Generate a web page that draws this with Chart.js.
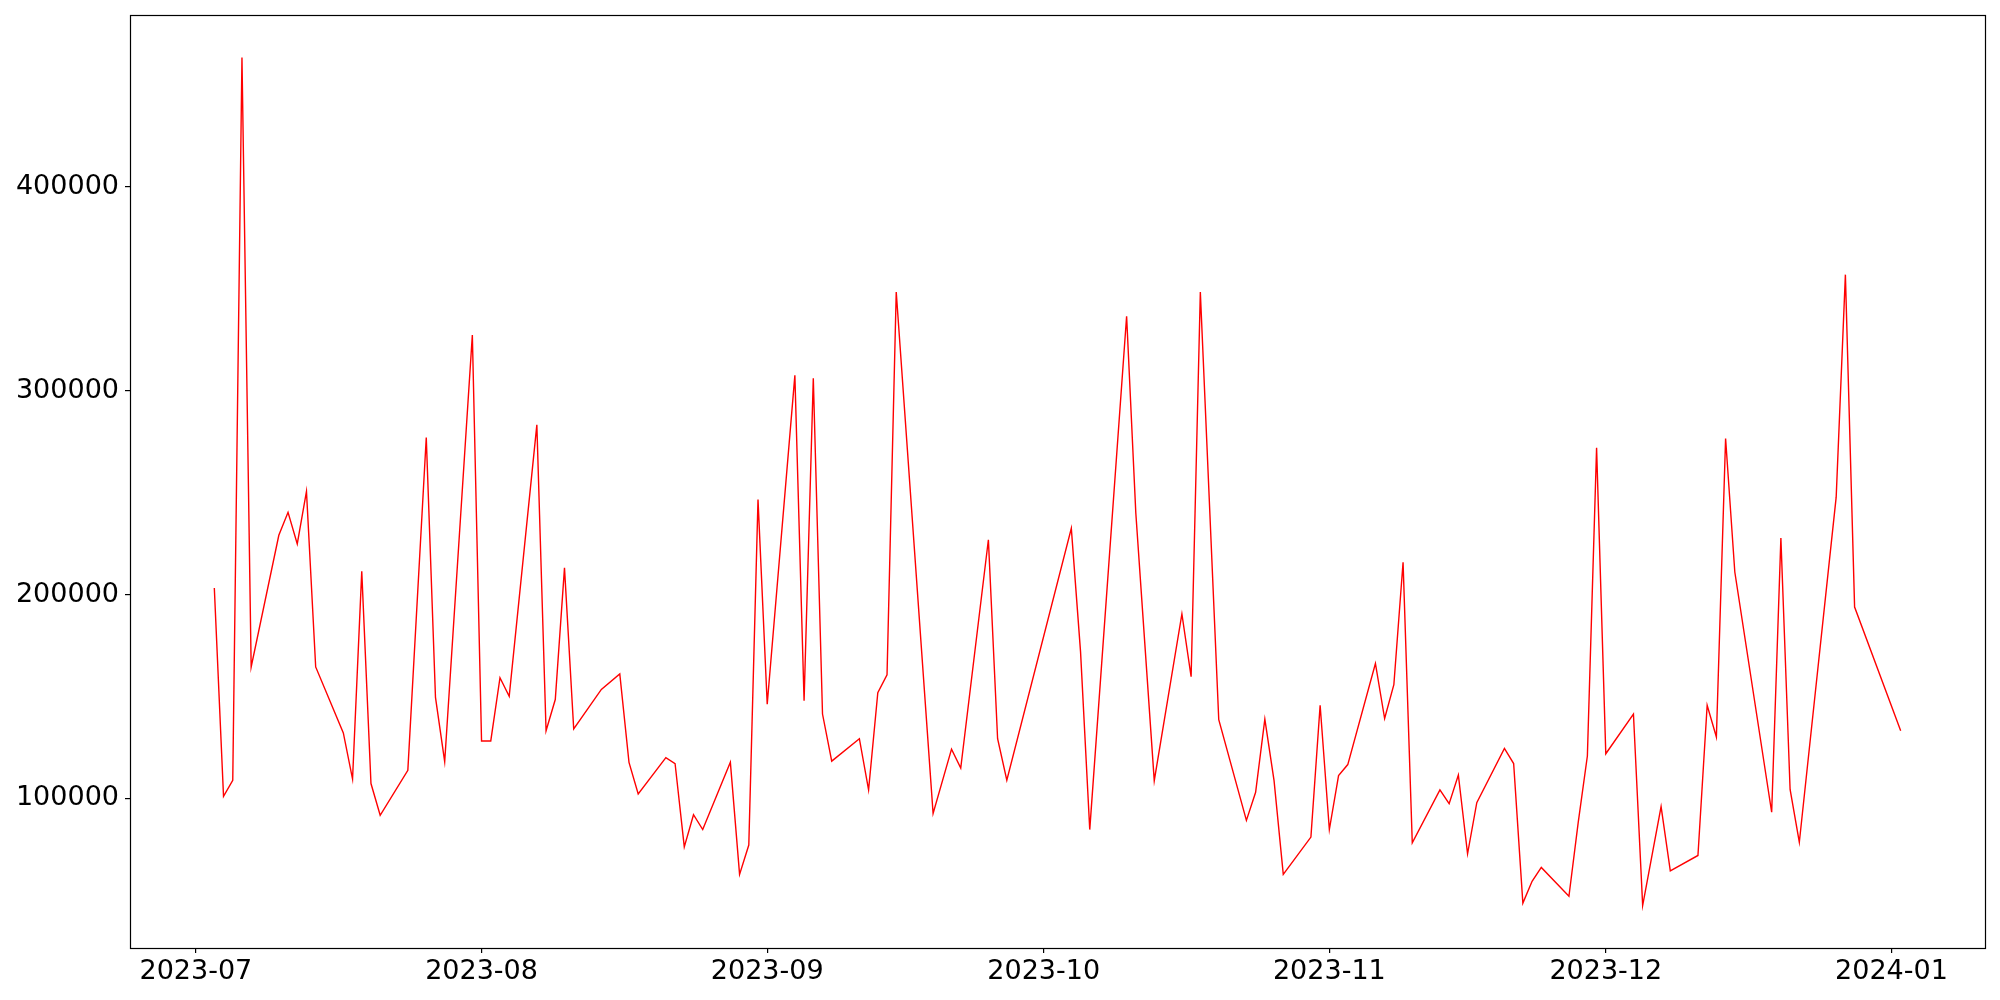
<!DOCTYPE html>
<html>
<head>
<meta charset="utf-8">
<script src="https://cdn.jsdelivr.net/npm/chart.js@4/dist/chart.umd.min.js"></script>
<style>
  html,body{margin:0;padding:0;background:#fff;}
  #wrap{width:2000px;height:1000px;position:relative;}
</style>
</head>
<body>
<div id="wrap"><canvas id="ch"></canvas></div>
<script>
// data
const dates = [
  '2023-07-03','2023-07-04','2023-07-05','2023-07-06','2023-07-07','2023-07-10','2023-07-11','2023-07-12','2023-07-13','2023-07-14',
  '2023-07-17','2023-07-18','2023-07-19','2023-07-20','2023-07-21','2023-07-24','2023-07-26','2023-07-27','2023-07-28','2023-07-31',
  '2023-08-01','2023-08-02','2023-08-03','2023-08-04','2023-08-07','2023-08-08','2023-08-09','2023-08-10','2023-08-11','2023-08-14',
  '2023-08-16','2023-08-17','2023-08-18','2023-08-21','2023-08-22','2023-08-23','2023-08-24','2023-08-25','2023-08-28','2023-08-29',
  '2023-08-30','2023-08-31','2023-09-01','2023-09-04','2023-09-05','2023-09-06','2023-09-07','2023-09-08','2023-09-11','2023-09-12',
  '2023-09-13','2023-09-14','2023-09-15','2023-09-19','2023-09-21','2023-09-22','2023-09-25','2023-09-26','2023-09-27','2023-10-04',
  '2023-10-05','2023-10-06','2023-10-10','2023-10-11','2023-10-13','2023-10-16','2023-10-17','2023-10-18','2023-10-20','2023-10-23',
  '2023-10-24','2023-10-25','2023-10-26','2023-10-27','2023-10-30','2023-10-31','2023-11-01','2023-11-02','2023-11-03','2023-11-06',
  '2023-11-07','2023-11-08','2023-11-09','2023-11-10','2023-11-13','2023-11-14','2023-11-15','2023-11-16','2023-11-17','2023-11-20',
  '2023-11-21','2023-11-22','2023-11-23','2023-11-24','2023-11-27','2023-11-28','2023-11-29','2023-11-30','2023-12-01','2023-12-04',
  '2023-12-05','2023-12-07','2023-12-08','2023-12-11','2023-12-12','2023-12-13','2023-12-14','2023-12-15','2023-12-19','2023-12-20',
  '2023-12-21','2023-12-22','2023-12-26','2023-12-27','2023-12-28','2024-01-02'
];
const values = [
  203200,101000,108900,463600,164500,229100,240400,224900,250600,164500,
  132100,109500,211400,107300,91700,113800,277100,149600,118000,327400,
  128200,128200,159200,150100,283300,133200,148500,213100,134100,153500,
  161100,117700,102200,120000,117100,76200,92000,84700,117700,62700,
  77100,246600,146200,307600,147900,306200,141400,118300,129300,104200,
  151900,160600,348500,92600,124200,114900,226900,129300,108900,232500,
  172000,84700,336600,239900,108700,190500,159700,348500,138600,89200,
  103000,138900,108700,62700,81000,145700,84700,111200,116600,166200,
  139200,155800,215900,78200,104200,97400,111500,72800,97900,124500,
  117100,48600,59300,66100,52000,88000,120800,272000,121900,141400,
  47400,96000,64400,72000,145700,130100,276600,211100,93200,227800,
  104400,78500,247800,357000,193900,133200
];
const xTickLabels = ['2023-07','2023-08','2023-09','2023-10','2023-11','2023-12','2024-01'];
const yTicks = [100000,200000,300000,400000];

const toMs = s => { const p = s.split('-').map(Number); return Date.UTC(p[0], p[1]-1, p[2] || 1); };
const pts = dates.map((d,i)=>({x:toMs(d), y:values[i]}));
const xTicks = xTickLabels.map(toMs);

// matplotlib style 5% margins
const xs = pts.map(p=>p.x), ys = values;
const xLo = Math.min(...xs), xHi = Math.max(...xs), xPad = (xHi-xLo)*0.05;
const yLo = Math.min(...ys), yHi = Math.max(...ys), yPad = (yHi-yLo)*0.05;

const FONT = {family:'"DejaVu Sans", sans-serif', size:27};

// box round the plot area, like matplotlib spines
const frame = {
  id:'frame',
  afterDraw(c){
    const a = c.chartArea, ctx = c.ctx;
    ctx.save();
    ctx.strokeStyle = '#000'; ctx.lineWidth = 1.2;
    ctx.strokeRect(Math.round(a.left)+0.5, Math.round(a.top)+0.5, Math.round(a.right-a.left), Math.round(a.bottom-a.top));
    ctx.restore();
  }
};

new Chart(document.getElementById('ch'), {
  type:'line',
  data:{datasets:[{
    data:pts, borderColor:'#ff0000', borderWidth:1.4,
    pointRadius:0, tension:0, fill:false
  }]},
  options:{
    responsive:true, maintainAspectRatio:false, animation:false,
    devicePixelRatio:1,
    layout:{padding:{left:0, top:15, right:15, bottom:0}},
    plugins:{legend:{display:false}, tooltip:{enabled:false}},
    scales:{
      x:{
        type:'linear', min:xLo-xPad, max:xHi+xPad,
        afterBuildTicks: s => { s.ticks = xTicks.map(v=>({value:v})); },
        afterFit: s => { s.height = 52; s.paddingLeft = 0; s.paddingRight = 0; },
        grid:{drawOnChartArea:false, color:'#000', tickLength:5, lineWidth:1.2},
        border:{display:false},
        ticks:{autoSkip:false, maxRotation:0, padding:3, color:'#000', font:FONT,
          callback: v => xTickLabels[xTicks.indexOf(v)] ?? ''}
      },
      y:{
        type:'linear', min:yLo-yPad, max:yHi+yPad,
        afterBuildTicks: s => { s.ticks = yTicks.map(v=>({value:v})); },
        afterFit: s => { s.width = 130; s.paddingTop = 0; s.paddingBottom = 0; },
        grid:{drawOnChartArea:false, color:'#000', tickLength:5, lineWidth:1.2},
        border:{display:false},
        ticks:{padding:6, color:'#000', font:FONT, callback: v => String(v)}
      }
    }
  },
  plugins:[frame]
});
</script>
</body>
</html>
